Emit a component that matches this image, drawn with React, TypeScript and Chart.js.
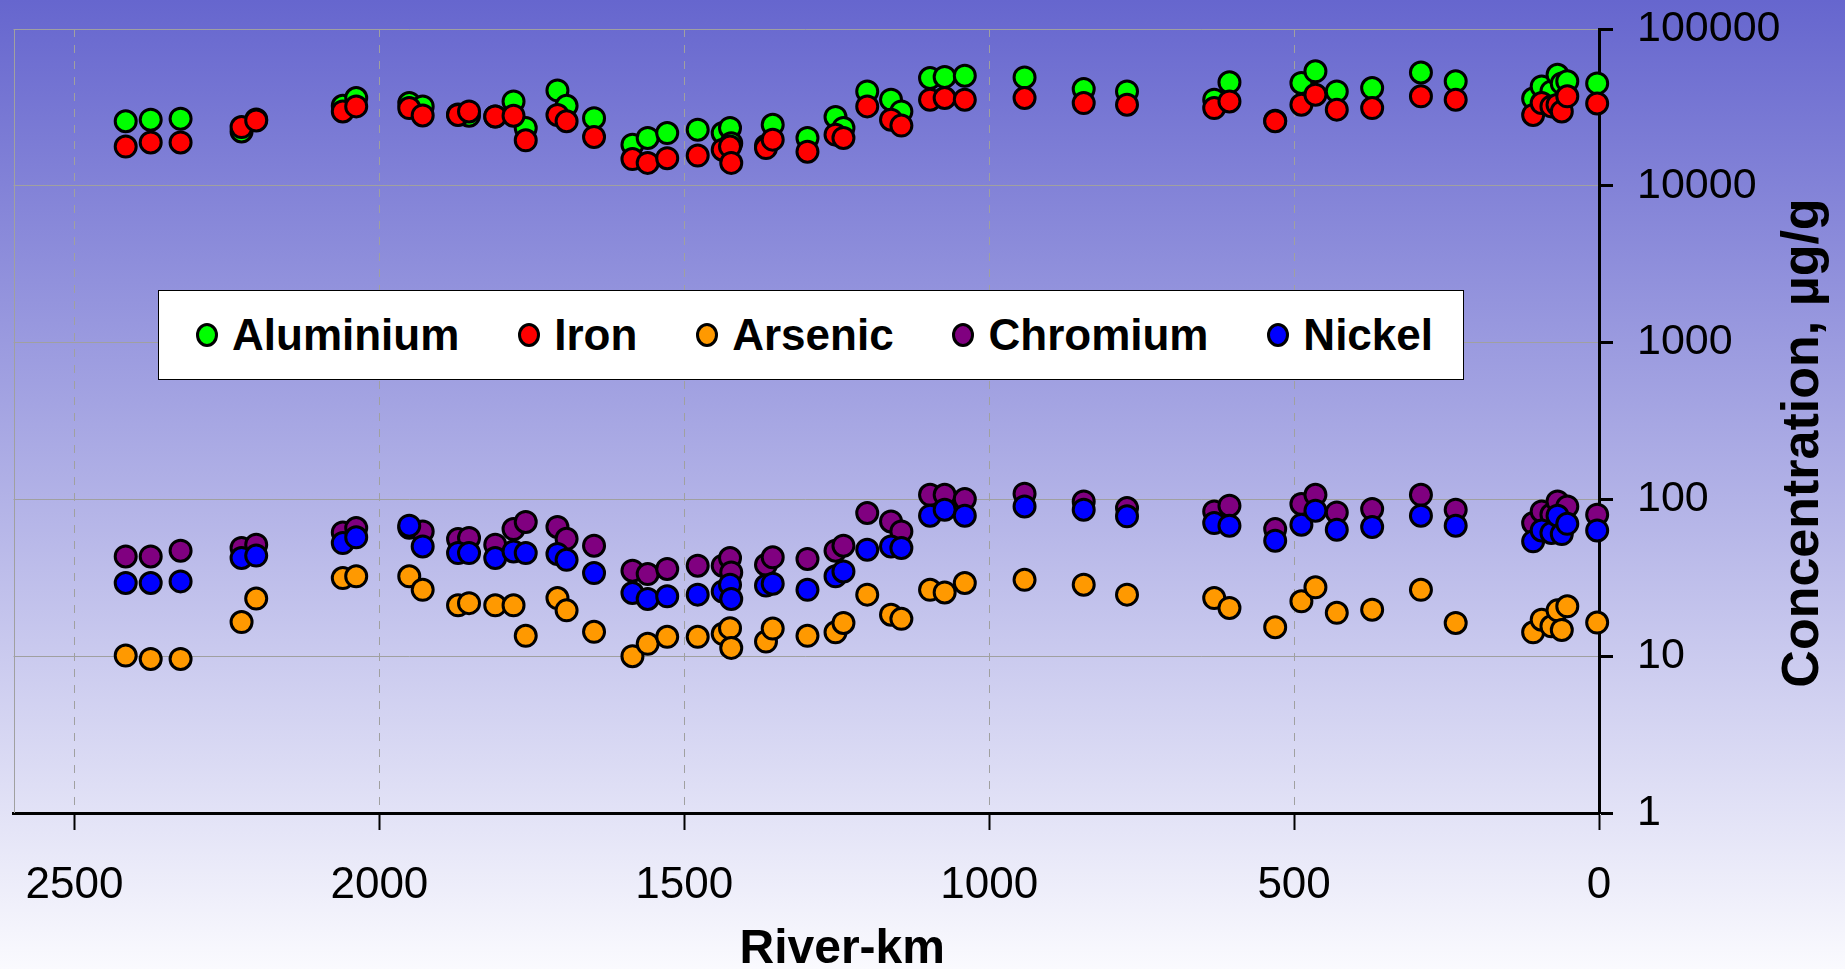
import React, { useEffect, useRef } from "react";
import { Chart, registerables } from "chart.js";

Chart.register(...registerables);

// ---------- data ----------
const RIVER_KM = [
  2416, 2375, 2326, 2226, 2202, 2060, 2038, 1951, 1929, 1871, 1853, 1810, 1780, 1760,
  1708, 1693, 1648, 1585, 1560, 1528, 1478, 1437, 1425, 1423, 1366, 1355, 1298, 1252,
  1239, 1200, 1161, 1144, 1097, 1073, 1040, 942, 845, 774, 631, 606, 531, 488, 465,
  430, 372, 292, 235, 108, 94, 78, 68, 61, 52, 3,
];

const ALUMINIUM = [
  25800, 26400, 26800, 22200, 26500, 32400, 36300, 33700, 32100, 28500, 28000, 27700, 34500, 23400,
  40600, 32400, 27000, 18300, 20200, 21700, 22800, 21700, 23400, 18700, 18000, 24500, 20200, 27500,
  23400, 40000, 35400, 29800, 48700, 49500, 50400, 49100, 41400, 40000, 35400, 45700, 26000, 45300, 53700,
  40000, 42000, 52800, 46400, 36000, 43000, 40000, 51000, 45000, 46400, 45000,
];

const IRON = [
  17800, 18900, 18900, 23700, 26100, 29800, 32100, 31300, 28100, 28300, 29800, 27700, 28000, 19500,
  28300, 25800, 20500, 14800, 14000, 15000, 15600, 17000, 17800, 14000, 17400, 19700, 16500, 21200,
  20200, 32100, 26400, 24200, 35400, 36300, 35400, 36300, 33700, 32900, 31300, 34500, 25800, 32900, 38100,
  30600, 31300, 37200, 35400, 28300, 33700, 32100, 32900, 29800, 37200, 33500,
];

const ARSENIC = [
  10.1, 9.6, 9.6, 16.5, 23.3, 31.5, 32.3, 32.3, 26.5, 21.1, 21.8, 21.1, 21.1, 13.5,
  23.5, 19.6, 14.3, 10.0, 12.0, 13.3, 13.3, 13.9, 15.1, 11.3, 12.4, 15.0, 13.5, 14.2,
  16.3, 24.7, 18.4, 17.3, 26.5, 25.5, 29.3, 30.7, 28.6, 24.7, 23.5, 20.3, 15.3, 22.4, 27.5,
  18.9, 19.8, 26.5, 16.3, 14.2, 17.1, 15.5, 19.6, 14.7, 20.8, 16.4,
];

const CHROMIUM = [
  43.3, 43.3, 47.1, 49, 51.4, 61.6, 65.7, 66, 62.5, 55.9, 56.8, 51.4, 64.7, 71.8,
  66.7, 56.1, 50.7, 35.1, 33.4, 36.0, 37.8, 37.8, 42.3, 34.2, 38.3, 42.7, 41.7, 47.1,
  50.7, 81.9, 72.4, 62.5, 107, 107, 100.5, 108.7, 97, 88.1, 83.8, 91.2, 64.7, 93.5, 107,
  82.6, 86.8, 107, 86, 70.7, 83.8, 80, 97, 75, 90.2, 79.9,
];

const NICKEL = [
  29.3, 29.3, 30.0, 42.3, 43.8, 52.7, 57.3, 68, 50.1, 45.5, 45.5, 42.3, 46.6, 45.5,
  44.9, 41.2, 33.9, 25.3, 23.2, 24.1, 24.7, 25.9, 28.6, 23.2, 28.2, 29.0, 26.5, 32.3,
  34.7, 47.8, 50.1, 49.0, 78.7, 86, 78.7, 90.2, 86, 78, 70.7, 68, 54.5, 69, 84.7,
  64.1, 66.7, 78.7, 68, 54, 63.4, 61.1, 78.7, 60.1, 69.9, 63.4,
];

const SERIES_NAMES = ["Aluminium", "Iron", "Arsenic", "Chromium", "Nickel"];
const SERIES_VALUES = [ALUMINIUM, IRON, ARSENIC, CHROMIUM, NICKEL];
const SERIES_COLORS = ["#00ff00", "#ff0000", "#ff9900", "#800080", "#0000ff"];

const X_TICKS = [0, 500, 1000, 1500, 2000, 2500];
const Y_TICKS = [1, 10, 100, 1000, 10000, 100000];
const X_TITLE = "River-km";
const Y_TITLE = "Concentration, µg/g";

const FONT = '"Liberation Sans", Arial, Helvetica, sans-serif';

// ---------- plugin: background, frame, axis titles ----------
const decorPlugin = {
  id: "decor",
  beforeDraw(chart: any) {
    const { ctx, width, height } = chart;
    const g = ctx.createLinearGradient(0, 0, 0, height);
    g.addColorStop(0, "rgb(102,102,206)");
    g.addColorStop(1, "rgb(250,250,254)");
    ctx.save();
    ctx.fillStyle = g;
    ctx.fillRect(0, 0, width, height);
    ctx.restore();
  },
  beforeDatasetsDraw(chart: any) {
    const { ctx, chartArea } = chart;
    ctx.save();
    ctx.strokeStyle = "#a0a0a0";
    ctx.lineWidth = 1;
    ctx.beginPath();
    ctx.moveTo(Math.round(chartArea.left) + 0.5, chartArea.top);
    ctx.lineTo(Math.round(chartArea.left) + 0.5, chartArea.bottom);
    ctx.stroke();
    ctx.restore();
  },
  afterDraw(chart: any) {
    const { ctx, chartArea } = chart;
    ctx.save();
    ctx.fillStyle = "#000";
    ctx.font = `bold 48px ${FONT}`;
    ctx.textAlign = "center";
    ctx.textBaseline = "alphabetic";
    ctx.fillText(X_TITLE, (chartArea.left + chartArea.right) / 2 + 36, 963);
    ctx.translate(1818, (chartArea.top + chartArea.bottom) / 2 + 22);
    ctx.rotate(-Math.PI / 2);
    ctx.font = `bold 52px ${FONT}`;
    ctx.fillText(Y_TITLE, 0, 0);
    ctx.restore();
  },
};

const zeroPad = (s: any) => {
  s.paddingTop = 0;
  s.paddingBottom = 0;
  s.paddingLeft = 0;
  s.paddingRight = 0;
};

export default function App() {
  const canvasRef = useRef<HTMLCanvasElement | null>(null);

  useEffect(() => {
    document.body.style.margin = "0";
    const canvas = canvasRef.current;
    if (!canvas) return;
    Chart.defaults.font.family = FONT;

    const datasets = SERIES_NAMES.map((name, i) => ({
      label: name,
      data: RIVER_KM.map((km, j) => ({ x: km, y: SERIES_VALUES[i][j] })),
      pointRadius: 10.5,
      pointHoverRadius: 10.5,
      pointBorderWidth: 3,
      pointBackgroundColor: SERIES_COLORS[i],
      pointBorderColor: "#000",
      showLine: false,
      order: SERIES_NAMES.length - i,
      clip: false as any,
    }));

    const chart = new Chart(canvas, {
      type: "scatter",
      data: { datasets },
      options: {
        animation: false,
        responsive: false,
        devicePixelRatio: 1,
        events: [],
        layout: { padding: { left: 13, top: 29, right: 0, bottom: 0 } },
        plugins: {
          legend: { display: false },
          tooltip: { enabled: false },
        },
        scales: {
          x: {
            type: "linear",
            position: "bottom",
            reverse: true,
            min: 0,
            max: 2600,
            afterBuildTicks: (s: any) => {
              s.ticks = X_TICKS.map((v) => ({ value: v }));
            },
            afterFit: (s: any) => {
              s.height = 156;
              zeroPad(s);
            },
            grid: {
              color: "#a0a0a0",
              lineWidth: 1,
              tickColor: "#000",
              tickWidth: 2,
              tickLength: 17,
              tickBorderDash: [],
            } as any,
            border: { display: true, color: "#000", width: 3, dash: [8, 8] },
            ticks: {
              color: "#000",
              font: { size: 44 },
              padding: 29,
              maxRotation: 0,
              autoSkip: false,
              callback: (v: any) => String(v),
            },
          },
          y: {
            type: "logarithmic",
            position: "right",
            min: 1,
            max: 100000,
            afterBuildTicks: (s: any) => {
              s.ticks = Y_TICKS.map((v) => ({ value: v }));
            },
            afterFit: (s: any) => {
              s.width = 246;
              zeroPad(s);
            },
            grid: {
              color: "#a0a0a0",
              lineWidth: 1,
              tickColor: "#000",
              tickWidth: 3,
              tickLength: 14,
            },
            border: { display: true, color: "#000", width: 3 },
            ticks: {
              color: "#000",
              font: { size: 43 },
              padding: 24,
              autoSkip: false,
              callback: (v: any) => String(v),
            },
          },
        },
      },
      plugins: [decorPlugin],
    } as any);

    return () => chart.destroy();
  }, []);

  return (
    <div style={{ position: "absolute", left: 0, top: 0, width: 1845, height: 969 }}>
      <canvas ref={canvasRef} width={1845} height={969} style={{ display: "block" }} />
      <div
        style={{
          position: "absolute",
          left: 158,
          top: 290,
          width: 1306,
          height: 90,
          boxSizing: "border-box",
          background: "#fff",
          border: "1.5px solid #000",
          display: "flex",
          alignItems: "center",
          justifyContent: "space-between",
          paddingLeft: 37,
          paddingRight: 30,
          fontFamily: FONT,
          fontWeight: "bold",
          fontSize: 44,
          color: "#000",
        }}
      >
        {SERIES_NAMES.map((name, i) => (
          <div key={name} style={{ display: "flex", alignItems: "center" }}>
            <span
              style={{
                display: "inline-block",
                width: 22,
                height: 24,
                boxSizing: "border-box",
                borderRadius: "50%",
                border: "3px solid #000",
                background: SERIES_COLORS[i],
                marginRight: 14,
              }}
            />
            <span style={{ lineHeight: 1 }}>{name}</span>
          </div>
        ))}
      </div>
    </div>
  );
}
